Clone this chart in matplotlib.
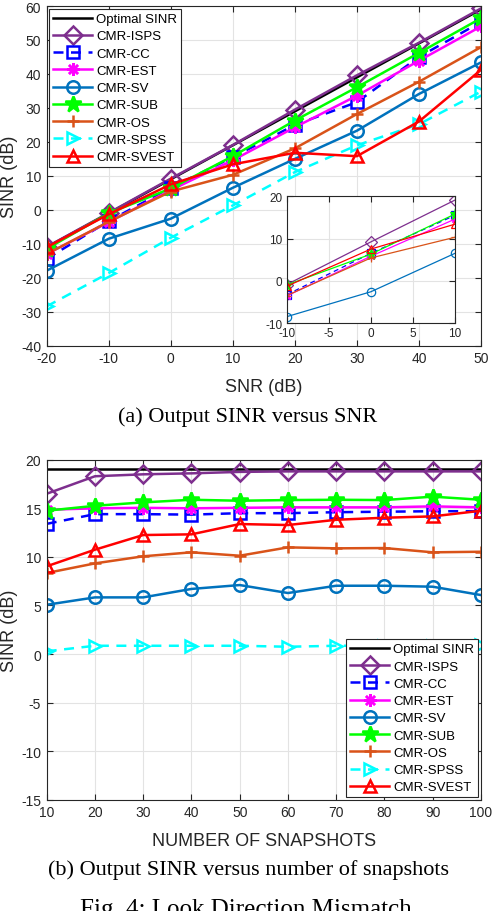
import numpy as np
import matplotlib
matplotlib.use('Agg')
import matplotlib.pyplot as plt

plt.rcParams['font.family'] = ['Liberation Sans', 'DejaVu Sans']
plt.rcParams['axes.unicode_minus'] = False

# ---- data: (a) SINR vs SNR ----
snr = [-20, -10, 0, 10, 20, 30, 40, 50]
opt_a = [-11, -1, 9, 19, 29, 39, 49, 59]
isps_a = [-10.9, -0.9, 9.2, 19.1, 29.5, 39.6, 49.2, 59.3]
cc_a = [-14.4, -3.3, 6.5, 15.5, 25.0, 31.7, 45.0, 55.3]
est_a = [-13.0, -3.6, 5.8, 14.6, 24.3, 33.6, 43.9, 54.0]
sv_a = [-17.9, -8.5, -2.6, 6.5, 15.0, 23.3, 34.1, 43.4]
sub_a = [-11.5, -1.0, 6.3, 15.8, 26.3, 36.1, 46.2, 56.4]
os_a = [-13.0, -3.5, 5.4, 10.3, 18.1, 28.2, 37.7, 47.9]
spss_a = [-28.4, -18.6, -8.2, 1.3, 11.1, 19.0, 25.2, 34.8]
svest_a = [-11.0, -1.3, 7.5, 13.4, 16.8, 15.8, 26.0, 41.2]

# ---- data: (b) SINR vs number of snapshots ----
snaps = [10, 20, 30, 40, 50, 60, 70, 80, 90, 100]
opt_b = [19.0] * 10
isps_b = [16.5, 18.3, 18.5, 18.6, 18.75, 18.8, 18.8, 18.8, 18.8, 18.8]
cc_b = [13.4, 14.4, 14.4, 14.35, 14.5, 14.5, 14.6, 14.65, 14.7, 14.7]
est_b = [14.85, 15.0, 15.05, 15.0, 15.05, 15.1, 15.1, 15.1, 15.2, 15.1]
sv_b = [5.07, 5.83, 5.83, 6.7, 7.1, 6.28, 7.03, 7.03, 6.93, 6.07]
sub_b = [14.75, 15.26, 15.61, 15.88, 15.78, 15.85, 15.88, 15.85, 16.2, 15.88]
os_b = [8.34, 9.33, 10.06, 10.47, 10.12, 10.98, 10.88, 10.91, 10.47, 10.53]
spss_b = [0.28, 0.85, 0.85, 0.85, 0.85, 0.75, 0.85, 0.85, 0.85, 0.95]
svest_b = [9.03, 10.74, 12.25, 12.32, 13.38, 13.28, 13.82, 14.03, 14.17, 14.75]

names = ['Optimal SINR', 'CMR-ISPS', 'CMR-CC', 'CMR-EST', 'CMR-SV',
         'CMR-SUB', 'CMR-OS', 'CMR-SPSS', 'CMR-SVEST']
colors = ['black', '#7E2F8E', '#0000FF', '#FF00FF', '#0072BD',
          '#00FF00', '#D95319', '#00FFFF', '#FF0000']
markers = [None, 'D', 's', (8, 2, 0), 'o', '*', '+', '>', '^']
styles = ['-', '-', '--', '-', '-', '-', '-', '--', '-']

series_a = [opt_a, isps_a, cc_a, est_a, sv_a, sub_a, os_a, spss_a, svest_a]
series_b = [opt_b, isps_b, cc_b, est_b, sv_b, sub_b, os_b, spss_b, svest_b]

# the zoomed inset shows these curves only (no optimal, no SPSS)
inset_idx = [1, 2, 3, 4, 5, 6, 8]

dark = '#262626'
gridc = '#e3e3e3'


def style_ax(ax, fs=10):
    ax.grid(True, color=gridc, linewidth=0.8)
    ax.set_axisbelow(True)
    for s in ax.spines.values():
        s.set_color(dark)
        s.set_linewidth(0.8)
    ax.tick_params(direction='in', top=True, right=True, colors=dark,
                   labelsize=fs, length=4, width=0.8, pad=4)


def draw(ax, x, series, idx, lw=1.8, ms=9, mew=1.8, label=True):
    for i in idx:
        c, m, ls = colors[i], markers[i], styles[i]
        ax.plot(x, series[i], linestyle=ls, color=c, marker=m,
                markersize=ms * 1.35 if m == '*' else ms,
                markerfacecolor=(c if m == '*' else 'none'),
                markeredgecolor=c, markeredgewidth=mew, linewidth=lw,
                label=names[i] if label else None,
                dashes=(4, 3) if ls == '--' else (None, None))


def make_legend(ax, loc, anchor):
    lg = ax.legend(loc=loc, bbox_to_anchor=anchor, fontsize=9.5,
                   handlelength=3.0, borderaxespad=0.1, labelspacing=0.38,
                   handletextpad=0.3, borderpad=0.3, fancybox=False, framealpha=1)
    lg.get_frame().set_edgecolor(dark)
    lg.get_frame().set_linewidth(0.8)


fig = plt.figure(figsize=(4.92, 9.12), dpi=100)

# ---------- (a) ----------
ax1 = fig.add_axes([0.0949, 0.6198, 0.8827, 0.3725])
style_ax(ax1)
draw(ax1, snr, series_a, range(9))
ax1.set_xlim(-20, 50)
ax1.set_ylim(-40, 60)
ax1.set_xticks(np.arange(-20, 51, 10))
ax1.set_yticks(np.arange(-40, 61, 10))
ax1.set_xlabel('SNR (dB)', fontsize=13, color=dark, labelpad=9)
ax1.set_ylabel('SINR (dB)', fontsize=13, color=dark, labelpad=2)
make_legend(ax1, 'upper left', (0.002, 0.995))

# inset
axi = fig.add_axes([0.5827, 0.6447, 0.3421, 0.1390])
style_ax(axi, fs=8.5)
draw(axi, snr[1:4], [s[1:4] for s in series_a], inset_idx,
     lw=0.9, ms=6, mew=0.9, label=False)
axi.set_xlim(-10, 10)
axi.set_ylim(-10, 20)
axi.set_xticks([-10, -5, 0, 5, 10])
axi.set_yticks([-10, 0, 10, 20])
axi.tick_params(pad=3)

fig.text(0.503, 0.5428, '(a) Output SINR versus SNR', ha='center', va='center',
         fontsize=16, family='Liberation Serif')

# ---------- (b) ----------
ax2 = fig.add_axes([0.0949, 0.1220, 0.8827, 0.3728])
style_ax(ax2)
draw(ax2, snaps, series_b, range(9))
ax2.set_xlim(10, 100)
ax2.set_ylim(-15, 20)
ax2.set_xticks(np.arange(10, 101, 10))
ax2.set_yticks(np.arange(-15, 21, 5))
ax2.set_xlabel('NUMBER OF SNAPSHOTS', fontsize=13, color=dark, labelpad=9)
ax2.set_ylabel('SINR (dB)', fontsize=13, color=dark, labelpad=2)
make_legend(ax2, 'lower right', (0.997, 0.003))

fig.text(0.505, 0.046, '(b) Output SINR versus number of snapshots',
         ha='center', va='center', fontsize=16, family='Liberation Serif')
fig.text(0.50, 0.0143, 'Fig. 4: Look Direction Mismatch', ha='center', va='top',
         fontsize=18, family='Liberation Serif')

fig.savefig('out.png', dpi=100)
